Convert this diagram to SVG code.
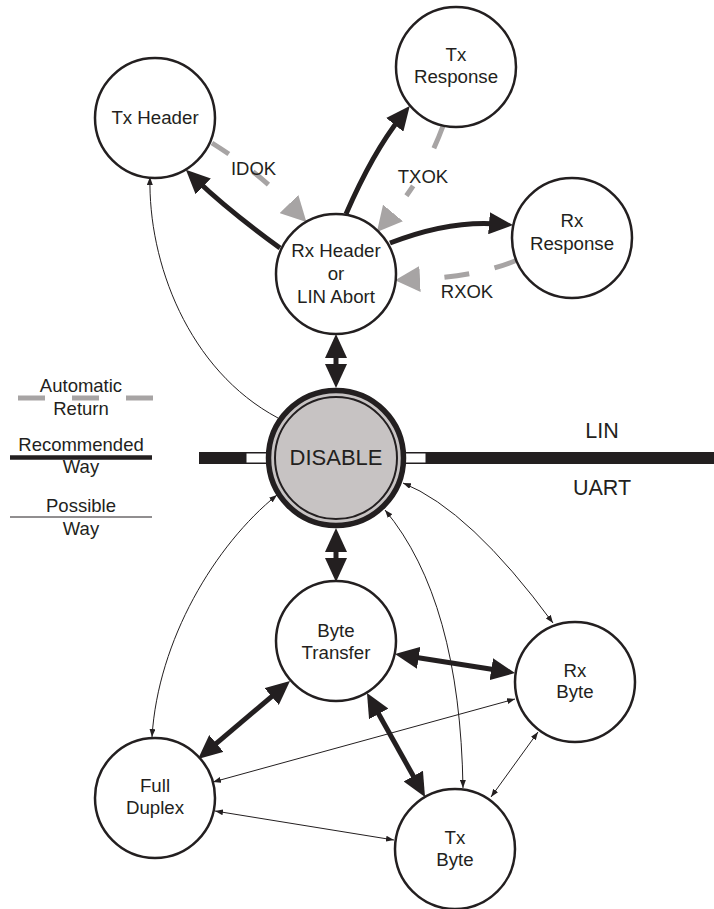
<svg xmlns="http://www.w3.org/2000/svg" width="714" height="909" viewBox="0 0 714 909">
<style>
  text { font-family: "Liberation Sans", Arial, Helvetica, sans-serif; fill: #231f20; text-anchor: middle; }
  .nt { font-size: 18.7px; }
  .lbl { font-size: 18.5px; }
  .big { font-size: 22px; }
  .side { font-size: 21.5px; }
  .node { fill: #ffffff; stroke: #231f20; stroke-width: 2.5; }
  .thick { fill: none; stroke: #231f20; stroke-width: 5; }
  .thin { fill: none; stroke: #231f20; stroke-width: 1; }
  .auto { fill: none; stroke: #a7a4a4; stroke-width: 5; }
</style>
<defs>
  <marker id="ah" viewBox="0 0 24 22" refX="10" refY="11" markerWidth="24" markerHeight="22" markerUnits="userSpaceOnUse" orient="auto-start-reverse">
    <path d="M0,0 L24,11 L0,22 z" fill="#231f20"/>
  </marker>
  <marker id="sh" viewBox="0 0 8 6" refX="8" refY="3" markerWidth="8" markerHeight="6" markerUnits="userSpaceOnUse" orient="auto-start-reverse">
    <path d="M0,0 L8,3 L0,6 z" fill="#231f20"/>
  </marker>
  <marker id="gh" viewBox="0 0 25 26" refX="0" refY="13" markerWidth="25" markerHeight="26" markerUnits="userSpaceOnUse" orient="auto">
    <path d="M0,0 L25,13 L0,26 z" fill="#a7a4a4"/>
  </marker>
</defs>

<g id="lin-uart-bar">
  <rect x="199" y="452" width="515" height="12" fill="#231f20"/>
  <rect x="246" y="453" width="22" height="10" fill="#ffffff" stroke="#231f20" stroke-width="1"/>
  <rect x="404" y="453" width="22" height="10" fill="#ffffff" stroke="#231f20" stroke-width="1"/>
  <text class="side" x="602" y="438">LIN</text>
  <text class="side" x="602" y="495">UART</text>
</g>

<g id="legend">
  <text class="lbl" x="81" y="392">Automatic</text>
  <line x1="18" y1="398" x2="153" y2="398" class="auto" stroke-dasharray="27 27"/>
  <text class="lbl" x="81" y="415">Return</text>
  <text class="lbl" x="81" y="451">Recommended</text>
  <line x1="10" y1="457.5" x2="152" y2="457.5" stroke="#231f20" stroke-width="4.5"/>
  <text class="lbl" x="81" y="473">Way</text>
  <text class="lbl" x="81" y="512">Possible</text>
  <line x1="10" y1="517" x2="152" y2="517" stroke="#231f20" stroke-width="1"/>
  <text class="lbl" x="81" y="535">Way</text>
</g>

<g id="connectors">
  <!-- automatic return (gray dashed) -->
  <path class="auto" d="M212,143 Q258,172 289,204" stroke-dasharray="20 30" marker-end="url(#gh)"/>
  <path class="auto" d="M443,126 Q425,175 393,213" stroke-dasharray="24 43 12 100" marker-end="url(#gh)"/>
  <path class="auto" d="M517,260 Q480,276 420,279" stroke-dasharray="24 26 25 100" marker-end="url(#gh)"/>
  <text class="lbl" x="253.5" y="175">IDOK</text>
  <text class="lbl" x="423" y="183">TXOK</text>
  <text class="lbl" x="467" y="298">RXOK</text>

  <!-- recommended way (thick) -->
  <path class="thick" d="M280,248 Q229,211 196,179.5" marker-end="url(#ah)"/>
  <path class="thick" d="M346,214 Q373,152 401,117" marker-end="url(#ah)"/>
  <path class="thick" d="M390,243 Q449,220 499,224" marker-end="url(#ah)"/>
  <path class="thick" d="M336,348 L336,374" marker-start="url(#ah)" marker-end="url(#ah)"/>
  <path class="thick" d="M336,542 L336,568" marker-start="url(#ah)" marker-end="url(#ah)"/>
  <path class="thick" d="M408.8,656.2 L501.2,670.8" marker-start="url(#ah)" marker-end="url(#ah)"/>
  <path class="thick" d="M279.3,690.1 L208.7,749.9" marker-start="url(#ah)" marker-end="url(#ah)"/>
  <path class="thick" d="M373.8,705.2 L418.2,784.8" marker-start="url(#ah)" marker-end="url(#ah)"/>

  <!-- possible way (thin) -->
  <path class="thin" d="M278,418 C188,370 148,262 150,177" marker-end="url(#sh)"/>
  <path class="thin" d="M152,737 C158,640 215,545 277,495" marker-start="url(#sh)" marker-end="url(#sh)"/>
  <path class="thin" d="M385,510 Q460,600 463,788" marker-start="url(#sh)" marker-end="url(#sh)"/>
  <path class="thin" d="M403,483 Q470,510 553,623" marker-start="url(#sh)" marker-end="url(#sh)"/>
  <path class="thin" d="M515,699 L213,782" marker-start="url(#sh)" marker-end="url(#sh)"/>
  <path class="thin" d="M215,811 L394,840" marker-start="url(#sh)" marker-end="url(#sh)"/>
  <path class="thin" d="M538,732 L491,797" marker-start="url(#sh)" marker-end="url(#sh)"/>
</g>

<g id="tx-header">
  <circle class="node" cx="155" cy="118" r="60"/>
  <text class="nt" x="155" y="124">Tx Header</text>
</g>
<g id="tx-response">
  <circle class="node" cx="456" cy="67" r="60"/>
  <text class="nt" x="456" y="61">Tx</text>
  <text class="nt" x="456" y="83">Response</text>
</g>
<g id="rx-response">
  <circle class="node" cx="572" cy="238" r="60"/>
  <text class="nt" x="572" y="227">Rx</text>
  <text class="nt" x="572" y="250">Response</text>
</g>
<g id="rx-header">
  <circle class="node" cx="336" cy="274" r="60"/>
  <text class="nt" x="336" y="257">Rx Header</text>
  <text class="nt" x="336" y="280">or</text>
  <text class="nt" x="336" y="303">LIN Abort</text>
</g>
<g id="disable">
  <circle cx="336" cy="458" r="67.5" fill="#c7c3c3" stroke="#231f20" stroke-width="5.5"/>
  <circle cx="336" cy="458" r="61" fill="#c7c3c3" stroke="#231f20" stroke-width="2"/>
  <text class="big" x="336" y="465">DISABLE</text>
</g>
<g id="byte-transfer">
  <circle class="node" cx="336" cy="641" r="60"/>
  <text class="nt" x="336" y="637">Byte</text>
  <text class="nt" x="336" y="659">Transfer</text>
</g>
<g id="rx-byte">
  <circle class="node" cx="575" cy="682" r="60"/>
  <text class="nt" x="575" y="677">Rx</text>
  <text class="nt" x="575" y="698">Byte</text>
</g>
<g id="full-duplex">
  <circle class="node" cx="155" cy="798" r="60"/>
  <text class="nt" x="155" y="792">Full</text>
  <text class="nt" x="155" y="814">Duplex</text>
</g>
<g id="tx-byte">
  <circle class="node" cx="455" cy="849" r="60"/>
  <text class="nt" x="455" y="844">Tx</text>
  <text class="nt" x="455" y="866">Byte</text>
</g>
</svg>
